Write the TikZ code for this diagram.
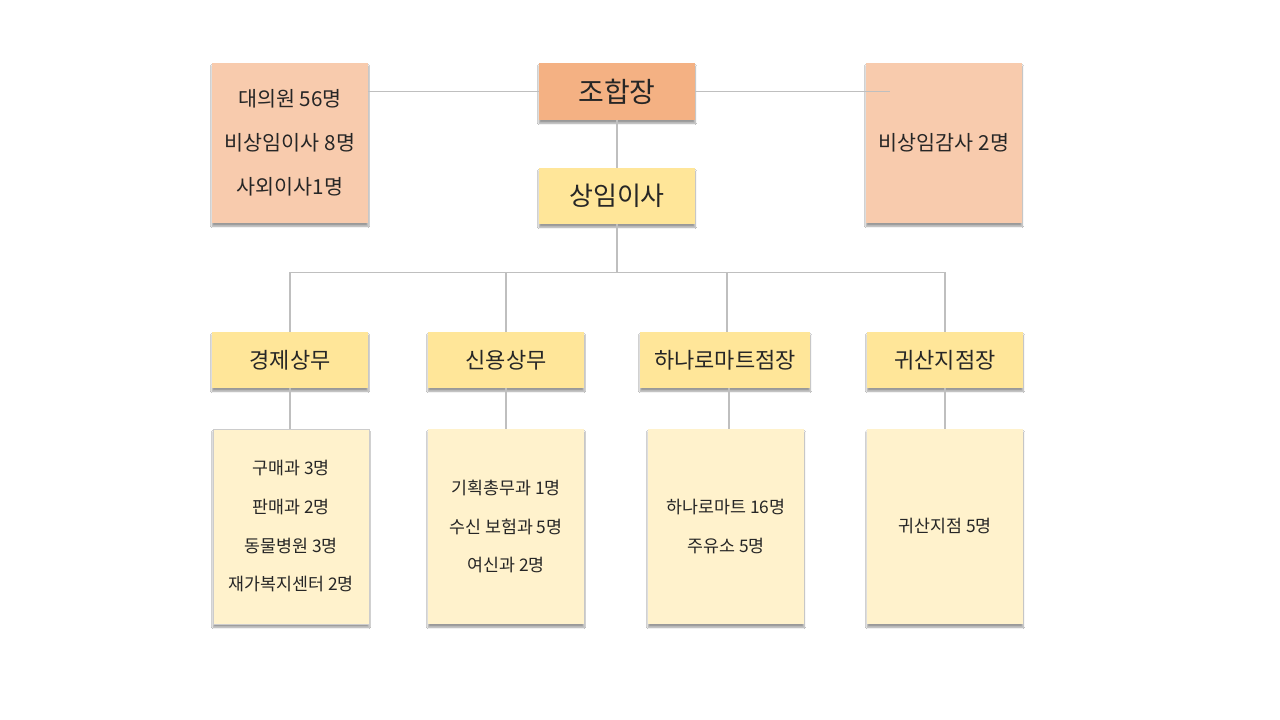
\documentclass[tikz,border=0pt]{standalone}
\usepackage{fontspec}
\setmainfont{Noto Sans CJK KR}
\usetikzlibrary{shadows.blur}
\definecolor{peach}{HTML}{F8CBAD}
\definecolor{orangebox}{HTML}{F4B183}
\definecolor{gold}{HTML}{FFE699}
\definecolor{cream}{HTML}{FFF2CC}
\definecolor{linegray}{HTML}{BFBFBF}
\definecolor{txt}{HTML}{262626}
\tikzset{
  box/.style={rectangle, inner sep=0pt, align=center, text=txt,
    blur shadow={shadow xshift=0pt, shadow yshift=-2.4pt, shadow blur steps=6,
      shadow blur radius=1.3pt, shadow opacity=40}},
  topside/.style={box, fill=peach, minimum width=117pt, minimum height=120pt,
    font=\fontsize{15.5}{33}\selectfont},
  headbox/.style={box, fill=orangebox, minimum width=117pt, minimum height=42.75pt,
    font=\fontsize{21}{24}\selectfont},
  goldbox/.style={box, fill=gold, minimum width=117pt, minimum height=42pt,
    font=\fontsize{19.5}{22}\selectfont},
  deptbox/.style={box, fill=gold, minimum width=117pt, minimum height=42pt,
    font=\fontsize{16.5}{19}\selectfont},
  unitbox/.style={box, fill=cream, minimum width=117pt, minimum height=146.25pt,
    font=\fontsize{13}{29}\selectfont},
  conn/.style={draw=linegray, line width=0.8pt}
}
\begin{document}
\begin{tikzpicture}[x=0.75pt, y=-0.75pt]
\useasboundingbox[fill=white] (0,0) rectangle (1280,720);
% top row
\node[topside] (council) at (290,143) {대의원 56명\\비상임이사 8명\\사외이사1명};
\node[headbox] (chief) at (617,91.5) {조합장};
\node[topside] (audit) at (944,143) {비상임감사 2명};
\node[goldbox] (exec) at (617,196) {상임이사};
% second row
\node[deptbox] (econ) at (290,360) {경제상무};
\node[deptbox] (credit) at (506,360) {신용상무};
\node[deptbox, minimum width=127.5pt] (mart) at (725,360) {하나로마트점장};
\node[deptbox] (branch) at (945,360) {귀산지점장};
% third row
\node[unitbox, draw=linegray!80, line width=0.6pt] (econu) at (291,526.5) {구매과 3명\\판매과 2명\\동물병원 3명\\재가복지센터 2명};
\node[unitbox] (creditu) at (506,526.5) {기획총무과 1명\\수신 보험과 5명\\여신과 2명};
\node[unitbox] (martu) at (726,526.5) {하나로마트 16명\\주유소 5명};
\node[unitbox] (branchu) at (945,526.5) {귀산지점 5명};
% connectors
\coordinate (auditend) at (890,91.5);
\draw[conn] (chief.west) -- (chief.west -| council.east);
\draw[conn] (chief.east) -- (chief.east -| auditend);
\draw[conn] (chief.south) -- (exec.north);
\draw[conn] (exec.south) -- ++(0,48) coordinate (bus);
\draw[conn] (econ.north) -- (econ.north |- bus) -- (branch.north |- bus) -- (branch.north);
\draw[conn] (credit.north) -- (credit.north |- bus);
\draw[conn] ([xshift=1.5]mart.north) -- ([xshift=1.5]mart.north |- bus);
\draw[conn] (econ.south) -- (econ.south |- econu.north);
\draw[conn] (credit.south) -- (credit.south |- creditu.north);
\draw[conn] ([xshift=3]mart.south) -- ([xshift=3]mart.south |- martu.north);
\draw[conn] (branch.south) -- (branch.south |- branchu.north);
\end{tikzpicture}
\end{document}
